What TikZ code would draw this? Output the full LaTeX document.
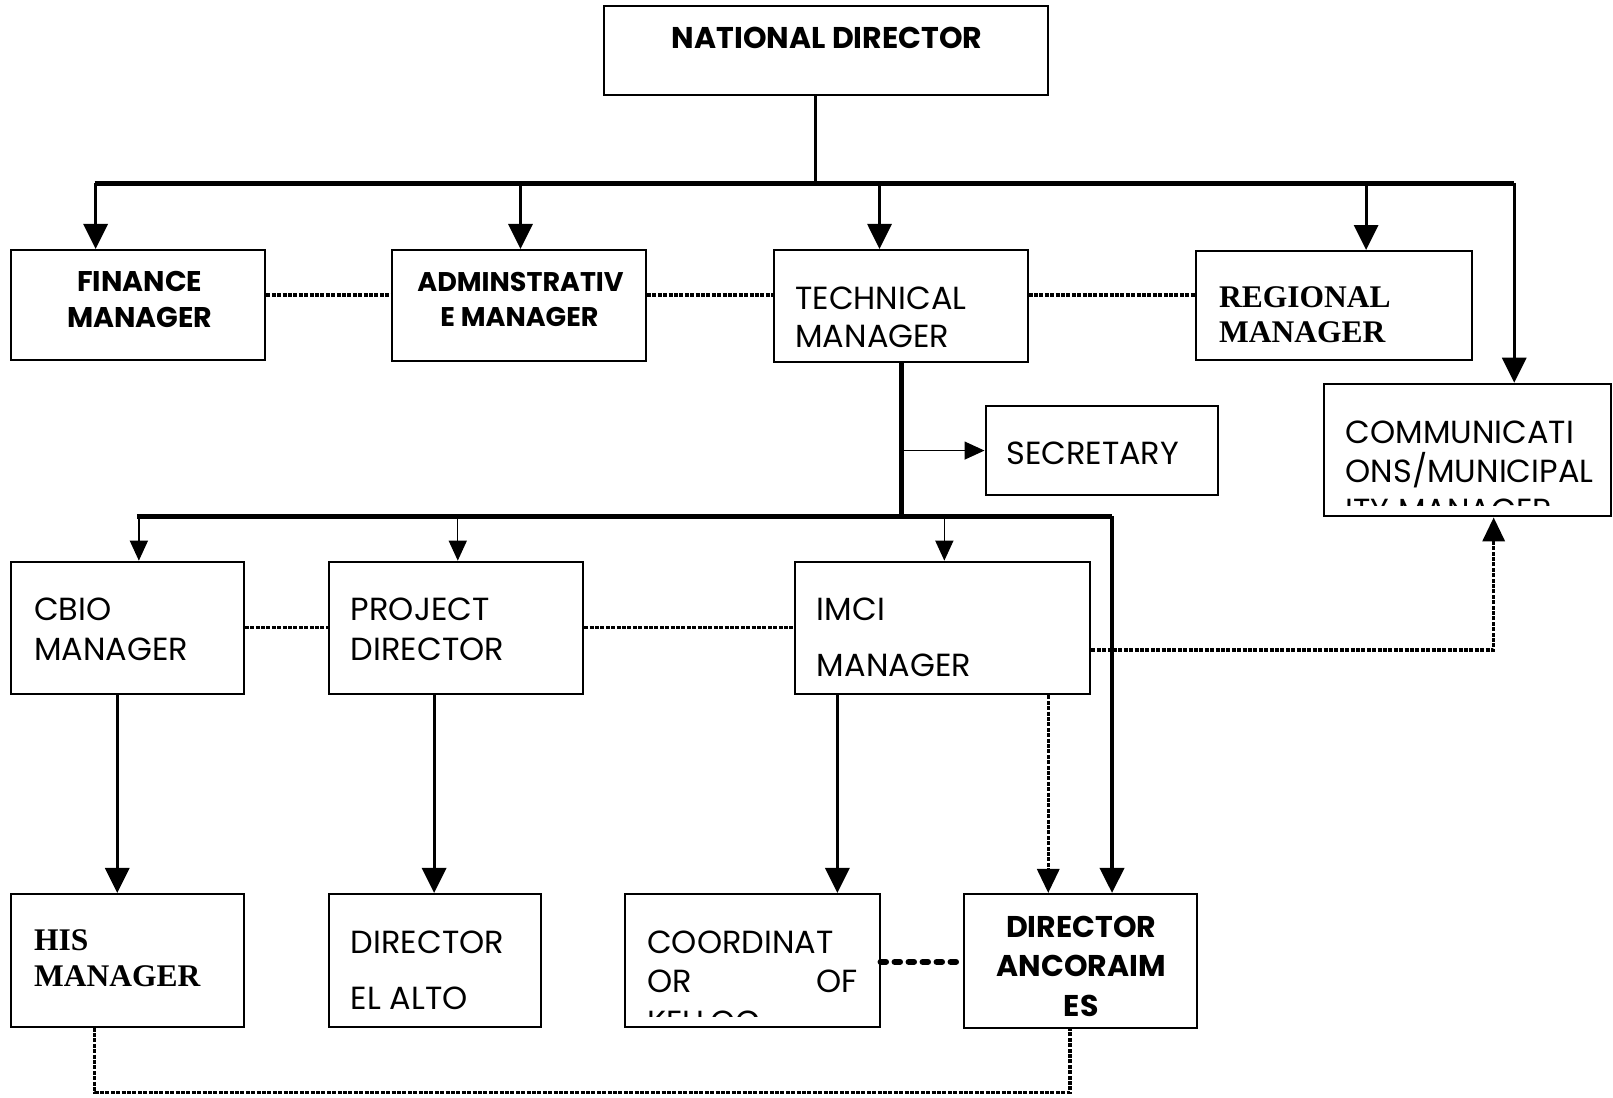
\documentclass[tikz,border=0pt]{standalone}
\usepackage{fontspec}
\setmainfont{Poppins}
\newfontfamily\tnr{Liberation Serif}
\usetikzlibrary{arrows.meta,fit}
\begin{document}
\begin{tikzpicture}[x=1.0287pt,y=-1.0287pt,
  box/.style={draw,line width=2pt,inner sep=0pt},
  reg/.style={inner sep=0pt,font=\fontsize{32}{38}\selectfont},
  bld/.style={inner sep=0pt,font=\fontsize{30}{36}\selectfont\bfseries},
  tms/.style={inner sep=0pt,font=\fontsize{31.5}{36}\selectfont\tnr\bfseries},
  busline/.style={line width=5pt},
  bigarrow/.style={line width=3.2pt,-{Triangle[length=25pt,width=24pt]}},
  thinarrow/.style={line width=1.4pt,-{Triangle[length=20pt,width=18pt]}},
  dotline/.style={line width=3.5pt,dash pattern=on 4pt off 1.4pt},
  dotarrow/.style={line width=3.5pt,dash pattern=on 4pt off 1.4pt,-{Triangle[length=24pt,width=22pt]}},
  fatdash/.style={line width=6pt,line cap=round,dash pattern=on 5.5pt off 8.5pt},
]
\useasboundingbox (0,0) rectangle (1568,1067);

% boxes
\node[box,fit={(587,6) (1019,92)}] (nd) {};
\node[box,fit={(11,243) (258,350)}] (fin) {};
\node[box,fit={(381,243) (628,351)}] (adm) {};
\node[box,fit={(752,243) (999,352)}] (tech) {};
\node[box,fit={(1163,244) (1431,350)}] (regm) {};
\node[box,fit={(1287,373) (1566,502)}] (comm) {};
\node[box,fit={(958,395) (1184,481)}] (sec) {};
\node[box,fit={(11,546) (237,675)}] (cbio) {};
\node[box,fit={(320,546) (567,675)}] (proj) {};
\node[box,fit={(773,546) (1060,675)}] (imci) {};
\node[box,fit={(11,869) (237,998)}] (his) {};
\node[box,fit={(320,869) (526,998)}] (alto) {};
\node[box,fit={(608,869) (855,998)}] (coord) {};
\node[box,fit={(937,869) (1164,999)}] (anc) {};

% texts
\node[bld,anchor=base] (ndT) at (804,47) {NATIONAL DIRECTOR};
\node[bld,anchor=base,font=\fontsize{28.5}{36}\selectfont\bfseries] (finT1) at (136,283) {FINANCE};
\node[bld,anchor=base,font=\fontsize{28.5}{36}\selectfont\bfseries] (finT2) at (136,318) {MANAGER};
\node[bld,anchor=base,font=\fontsize{27}{36}\selectfont\bfseries] (admT1) at (506,283) {ADMINSTRATIV};
\node[bld,anchor=base,font=\fontsize{27}{36}\selectfont\bfseries] (admT2) at (505,317) {E MANAGER};
\node[reg,anchor=base west] (techT1) at (773,301) {TECHNICAL};
\node[reg,anchor=base west] (techT2) at (773,338) {MANAGER};
\node[tms,anchor=base west] (regT1) at (1185,299) {REGIONAL};
\node[tms,anchor=base west] (regT2) at (1185,333) {MANAGER};
\begin{scope}
  \clip (1287,373) rectangle (1566,491);
  \node[reg,anchor=base west] (commT1) at (1308,431) {COMMUNICATI};
  \node[reg,anchor=base west] (commT2) at (1308,469) {ONS/MUNICIPAL};
  \node[reg,anchor=base west] (commT3) at (1308,507) {ITY MANAGER};
\end{scope}
\node[reg,anchor=base west] (secT) at (978,452) {SECRETARY};
\node[reg,anchor=base west] (cbioT1) at (33,603) {CBIO};
\node[reg,anchor=base west] (cbioT2) at (33,642) {MANAGER};
\node[reg,anchor=base west] (projT1) at (341,603) {PROJECT};
\node[reg,anchor=base west] (projT2) at (341,642) {DIRECTOR};
\node[reg,anchor=base west] (imciT1) at (794,603) {IMCI};
\node[reg,anchor=base west] (imciT2) at (794,658) {MANAGER};
\node[tms,anchor=base west] (hisT1) at (33,924) {HIS};
\node[tms,anchor=base west] (hisT2) at (33,959) {MANAGER};
\node[reg,anchor=base west] (altoT1) at (341,927) {DIRECTOR};
\node[reg,anchor=base west] (altoT2) at (341,981) {EL ALTO};
\begin{scope}
  \clip (608,869) rectangle (855,988);
  \node[reg,anchor=base west] (coordT1) at (629,927) {COORDINAT};
  \node[reg,anchor=base west] (coordT2) at (629,965) {OR};
  \node[reg,anchor=base east] (coordT3) at (834,965) {OF};
  \node[reg,anchor=base west] (coordT4) at (629,1005) {KELLOG};
\end{scope}
\node[bld,anchor=base] (ancT1) at (1051,911) {DIRECTOR};
\node[bld,anchor=base] (ancT2) at (1051,949) {ANCORAIM};
\node[bld,anchor=base] (ancT3) at (1051,988) {ES};

% top bus
\coordinate (b1L) at (92,178);
\coordinate (b1M) at (793,178);
\coordinate (b1R) at (1472,178);
\coordinate (a1) at (93,178);
\coordinate (a2) at (506,178);
\coordinate (a3) at (855,178);
\coordinate (a4) at (1328,178);
\draw[line width=2.8pt] (b1M |- nd.south) -- (b1M);
\draw[busline] (b1L) -- (b1R);
\draw[bigarrow] (a1) -- (a1 |- fin.north);
\draw[bigarrow] (a2) -- (a2 |- adm.north);
\draw[bigarrow] (a3) -- (a3 |- tech.north);
\draw[bigarrow] (a4) -- (a4 |- regm.north);
\draw[bigarrow] (b1R) -- (b1R |- comm.north);

% dotted links row 1
\coordinate (d1) at (0,287);
\draw[dotline] (fin.east |- d1) -- (adm.west |- d1);
\draw[dotline] (adm.east |- d1) -- (tech.west |- d1);
\draw[dotline] (tech.east |- d1) -- (regm.west |- d1);

% technical trunk
\coordinate (t0) at (876,352);
\coordinate (b2L) at (133,502);
\coordinate (b2R) at (1081,502);
\draw[busline] (t0) -- (t0 |- b2L);
\draw[thinarrow] (t0 |- sec.west) -- (sec.west);
\draw[busline] (b2L) -- (b2R);
\draw[bigarrow,line width=4pt] (b2R) -- (b2R |- anc.north);
\coordinate (c1) at (135,502);
\coordinate (c2) at (445,502);
\coordinate (c3) at (918,502);
\draw[thinarrow] (c1) -- (c1 |- cbio.north);
\draw[thinarrow] (c2) -- (c2 |- proj.north);
\draw[thinarrow] (c3) -- (c3 |- imci.north);

% dotted links row 2
\coordinate (d2) at (0,610);
\draw[dotline] (cbio.east |- d2) -- (proj.west |- d2);
\draw[dotline] (proj.east |- d2) -- (imci.west |- d2);
\coordinate (e1) at (1452,632);
\draw[dotarrow] (imci.east |- e1) -- (e1) -- (e1 |- comm.south);

% downward arrows
\coordinate (v1) at (114,0);
\coordinate (v2) at (422,0);
\coordinate (v3) at (814,0);
\coordinate (v4) at (1019,0);
\draw[bigarrow] (v1 |- cbio.south) -- (v1 |- his.north);
\draw[bigarrow] (v2 |- proj.south) -- (v2 |- alto.north);
\draw[bigarrow] (v3 |- imci.south) -- (v3 |- coord.north);
\draw[dotarrow] (v4 |- imci.south) -- (v4 |- anc.north);

% bottom links
\coordinate (d3) at (0,935);
\draw[fatdash] (coord.east |- d3) -- (anc.west |- d3);
\coordinate (g1) at (92,1062);
\coordinate (g2) at (1040,1062);
\draw[dotline] (g1 |- his.south) -- (g1) -- (g2) -- (g2 |- anc.south);
\end{tikzpicture}
\end{document}
